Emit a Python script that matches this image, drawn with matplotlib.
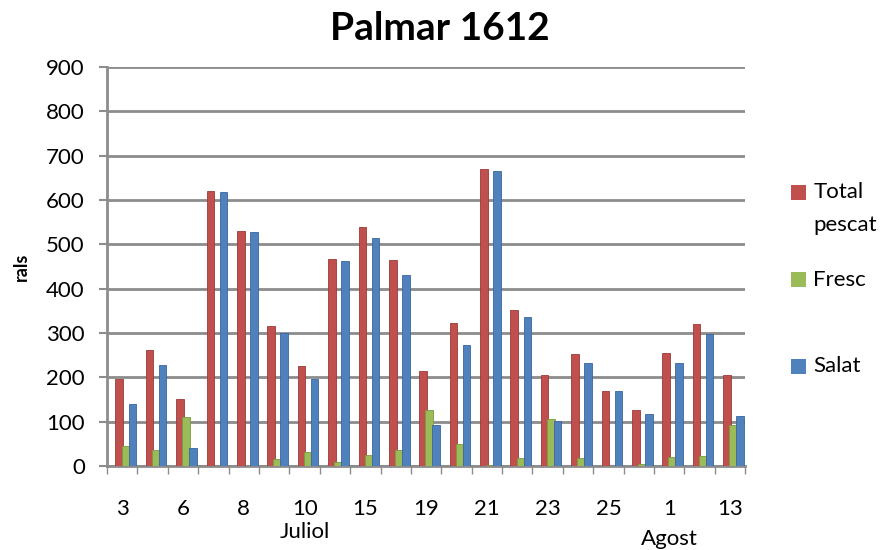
import numpy as np
import matplotlib.pyplot as plt
from matplotlib.patches import Rectangle

dies = ['3', '', '6', '', '8', '', '10', '', '15', '', '19', '', '21', '', '23', '', '25', '', '1', '', '13']
total_pescat = [195, 262, 150, 620, 530, 315, 225, 468, 540, 465, 215, 322, 670, 352, 205, 252, 170, 125, 255, 320, 205]
fresc = [45, 35, 110, 0, 0, 15, 32, 8, 25, 35, 125, 50, 3, 18, 105, 18, 0, 5, 20, 22, 92]
salat = [140, 228, 40, 618, 527, 300, 195, 462, 515, 430, 93, 272, 665, 337, 102, 233, 168, 117, 233, 297, 113]
mesos = [('Juliol', 6), ('Agost', 18)]

vermell = '#C0504D'
verd = '#9BBB59'
blau = '#4F81BD'
gris = '#8C8C8C'

plt.rcParams['font.family'] = ['Lato', 'DejaVu Sans']

fig = plt.figure(figsize=(8.85, 5.5), dpi=100)
ax = fig.add_axes([0.121, 0.153, 0.721, 0.725])

x = np.arange(len(dies))
w = 0.25
ax.bar(x - 0.1, total_pescat, w, color=vermell, edgecolor='#9c3a37', linewidth=0.6, zorder=3)
ax.bar(x + 0.1, fresc, w, color=verd, edgecolor='#7a9a3f', linewidth=0.6, zorder=3)
ax.bar(x + 0.33, salat, w, color=blau, edgecolor='#3a659c', linewidth=0.6, zorder=3)

ax.set_xlim(-0.5, len(dies) - 0.5)
ax.set_ylim(0, 900)
ax.set_yticks(range(0, 901, 100))
ax.yaxis.grid(True, color=gris, linewidth=2, zorder=0)
ax.set_axisbelow(True)

ax.set_xticks(x)
ax.set_xticklabels(dies, fontsize=16)
ax.set_xticks(np.arange(-0.5, len(dies), 1), minor=True)
ax.tick_params(axis='x', which='major', length=0, pad=24)
ax.tick_params(axis='x', which='minor', length=6, color=gris, width=1)
ax.tick_params(axis='y', length=6, color=gris, width=1.5, labelsize=16, pad=10)

for s in ['top', 'right']:
    ax.spines[s].set_visible(False)
ax.spines['left'].set_color(gris)
ax.spines['left'].set_linewidth(2)
ax.spines['bottom'].set_color(gris)
ax.spines['bottom'].set_linewidth(2)

for nom, pos in mesos:
    off = -47.5 if nom == 'Juliol' else -53
    ax.annotate(nom, xy=(pos, 0), xycoords='data', xytext=(0, off), textcoords='offset points',
                ha='center', va='center', fontsize=16, annotation_clip=False)

ax.set_ylabel('rals', fontsize=13, fontweight='bold', labelpad=12)
fig.text(0.497, 0.949, 'Palmar 1612', ha='center', va='center', fontsize=28, fontweight='bold')

# llegenda manual
entrades = [('Total', vermell, 0.650), ('Fresc', verd, 0.491), ('Salat', blau, 0.3345)]
for nom, c, yy in entrades:
    fig.add_artist(Rectangle((0.894, yy - 0.0136), 0.017, 0.0272, transform=fig.transFigure,
                             facecolor=c, edgecolor='none'))
    fig.text(0.919, yy, nom, ha='left', va='center', fontsize=16)
fig.text(0.919, 0.650 - 33 / 550, 'pescat', ha='left', va='center', fontsize=16)

fig.savefig('out.png', dpi=100)
